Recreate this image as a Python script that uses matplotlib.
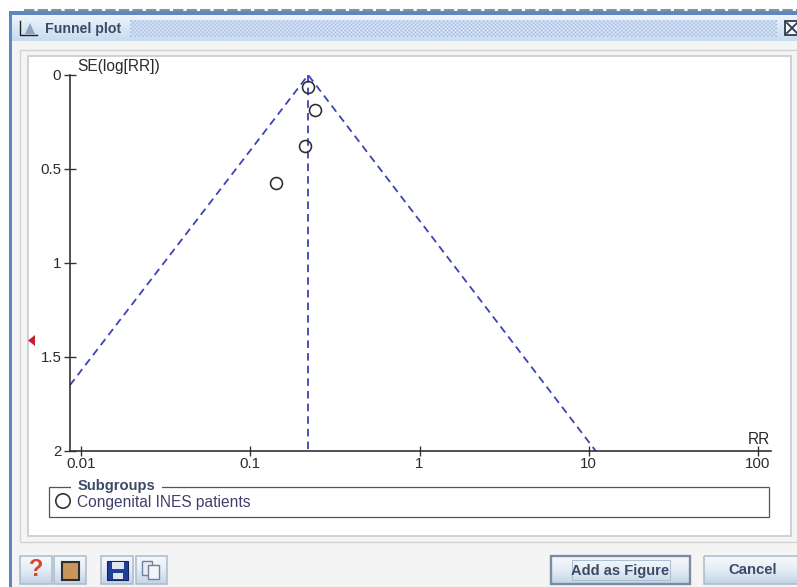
"""Funnel plot dialog: chart plus the surrounding window chrome."""

from __future__ import annotations

import matplotlib

matplotlib.use("Agg")

import matplotlib.pyplot as plt
import numpy as np
from matplotlib.patches import Circle, Polygon, Rectangle

WIDTH, HEIGHT = 797, 587

study_rr = [0.22, 0.24, 0.21, 0.142]
study_se = [0.064, 0.186, 0.378, 0.574]

funnel_rr = [0.0086, 0.22, 11.0]
funnel_se = [1.65, 0.0, 2.0]
pooled_line_rr = [0.22, 0.22]
pooled_line_se = [0.0, 2.0]

x_ticks = [0.01, 0.1, 1, 10, 100]
x_tick_labels = ["0.01", "0.1", "1", "10", "100"]
y_ticks = [0, 0.5, 1, 1.5, 2]
y_tick_labels = ["0", "0.5", "1", "1.5", "2"]

TEXT = "#2b2b2b"
AXIS = "#333333"
FUNNEL = "#3c44b4"
TITLE_TEXT = "#3c4a66"
FONT = "Liberation Sans"
DASHES = (0, (4.2, 2.8))


def pixel_axes(fig, left, top, right, bottom, **kwargs):
    return fig.add_axes(
        [left / WIDTH, 1 - bottom / HEIGHT, (right - left) / WIDTH, (bottom - top) / HEIGHT],
        **kwargs,
    )


def gradient(ax, left, top, right, bottom, colours):
    ramp = np.array([matplotlib.colors.to_rgb(c) for c in colours])
    rows = np.linspace(0, len(colours) - 1, 64)
    image = np.stack([np.interp(rows, range(len(colours)), ramp[:, i]) for i in range(3)], axis=1)
    ax.imshow(
        image[:, None, :],
        extent=(left, right, bottom, top),
        aspect="auto",
        interpolation="bilinear",
        zorder=1,
    )


def button(ax, left, top, right, bottom, edge="#a9bbcc", width=1.1):
    gradient(ax, left, top, right, bottom, ["#f6f9fc", "#e4ecf5", "#c3d4e6"])
    ax.add_patch(Rectangle((left, top), right - left, bottom - top, fill=False, ec=edge, lw=width, zorder=2))


def draw_chrome(ax):
    ax.set_xlim(0, WIDTH)
    ax.set_ylim(HEIGHT, 0)
    ax.axis("off")

    # window frame and dialog body
    ax.add_patch(Rectangle((9, 11), WIDTH, HEIGHT, fc="#5f86c0", ec="none", zorder=0))
    ax.add_patch(Rectangle((12, 41), WIDTH, HEIGHT, fc="#f4f4f5", ec="none", zorder=0.5))
    ax.plot([24, WIDTH], [10, 10], color="#8a8f9c", lw=1.5, ls=(0, (5, 1.5)), zorder=1)
    gradient(ax, 12, 15, WIDTH, 41, ["#eef5fb", "#d9e7f5", "#c8dcf0"])

    # stippled title bar filler
    yy, xx = np.mgrid[0:9, 0:323]
    stipple = np.where(((xx + yy) % 2 == 0)[..., None], [0.62, 0.72, 0.88], [0.92, 0.95, 0.99])
    ax.imshow(stipple, extent=(130, 777, 37, 20), aspect="auto", interpolation="bilinear", zorder=2)

    # title icon
    ax.plot([20, 20, 37], [21, 35, 35], color="#222222", lw=1, zorder=3)
    ax.add_patch(Polygon([[30, 23], [25, 34], [35, 34]], fc="#8fa3c0", ec="none", zorder=3))
    ax.text(45, 29, "Funnel plot", fontsize=10.2, fontweight="bold", color=TITLE_TEXT, va="center", zorder=3)

    # close button
    ax.add_patch(Rectangle((785, 21), 14, 14, fc="#f4f6f8", ec="#2d3a50", lw=1.3, zorder=3))
    ax.plot([787, 797], [23, 33], color="#2d3a50", lw=1.3, zorder=4)
    ax.plot([787, 797], [33, 23], color="#2d3a50", lw=1.3, zorder=4)

    # nested chart panel
    ax.add_patch(Rectangle((20.5, 49.5), WIDTH, 492, fc="#f4f4f4", ec="#d0d2d3", lw=1, zorder=1))
    ax.add_patch(Rectangle((28, 56), 763, 480, fc="white", ec="#c2ccd3", lw=1.2, zorder=1.5))

    # red marker on the left edge
    ax.add_patch(Polygon([[35, 335], [35, 346], [28, 340.5]], fc="#c8202a", ec="none", zorder=3))

    # legend box
    ax.add_patch(Rectangle((49.5, 487), 719.5, 30, fc="white", ec="#555555", lw=0.9, zorder=2))
    ax.add_patch(Rectangle((71, 482), 91, 9, fc="white", ec="none", zorder=2.5))
    ax.text(78, 486, "Subgroups", fontsize=10.6, fontweight="bold", color=TITLE_TEXT, va="center", zorder=3)
    ax.add_patch(Circle((63, 501), 7.2, fill=False, ec="#333333", lw=1.2, zorder=3))
    ax.text(77, 502.5, "Congenital INES patients", fontsize=11.2, color="#40406a", va="center", zorder=3)

    # toolbar buttons
    for left, right in [(20, 52), (54, 86), (101, 133), (136, 167)]:
        button(ax, left, 556, right, 584)
    ax.text(36, 570, "?", fontsize=17, fontweight="bold", color="#d8452c", ha="center", va="center", zorder=3)
    ax.add_patch(Rectangle((62.5, 562), 17, 17.5, fc="#c9955a", ec="#2d2d2d", lw=1.5, zorder=3))
    ax.add_patch(Rectangle((107.5, 561), 20.5, 19, fc="#1f3f9a", ec="#12245e", lw=0.8, zorder=3))
    ax.add_patch(Rectangle((112, 562), 12, 7, fc="#dfe6f2", ec="none", zorder=4))
    ax.add_patch(Rectangle((113, 573), 10, 6, fc="#dfe6f2", ec="none", zorder=4))
    ax.add_patch(Rectangle((142.5, 561), 10, 14, fc="#e8edf4", ec="#6f7f9c", lw=1, zorder=3))
    ax.add_patch(Rectangle((148, 565), 11, 14, fc="#f2f5f9", ec="#6f7f9c", lw=1, zorder=4))

    # dialog buttons
    button(ax, 551, 556, 690, 584, edge="#7a8ca0", width=1.7)
    ax.add_patch(Rectangle((572, 560), 98, 20, fill=False, ec="#a9bed4", lw=0.7, zorder=3))
    ax.text(620.5, 570.5, "Add as Figure", fontsize=10.5, fontweight="bold", color=TITLE_TEXT,
            ha="center", va="center", zorder=4)
    button(ax, 704, 556, 805, 584)
    ax.text(752.5, 570.5, "Cancel", fontsize=10.7, fontweight="bold", color=TITLE_TEXT,
            ha="center", va="center", zorder=4)

    # axis captions sit outside the tick scheme
    ax.text(77.5, 66.5, "SE(log[RR])", fontsize=11.2, color=TEXT, va="center", zorder=3)
    ax.text(758.5, 440, "RR", fontsize=11.2, color=TEXT, ha="center", va="center", zorder=3)


def draw_funnel(fig):
    ax = pixel_axes(fig, 70, 75, 771, 451, facecolor="none")
    decade = 169.25
    ax.set_xscale("log")
    ax.set_xlim(10 ** (-2 - 11 / decade), 10 ** (-2 + 690 / decade))
    ax.set_ylim(2, 0)

    ax.plot(funnel_rr, funnel_se, color=FUNNEL, lw=1.3, ls=DASHES, clip_on=False)
    ax.plot(pooled_line_rr, pooled_line_se, color=FUNNEL, lw=1.3, ls=DASHES)
    ax.plot(study_rr, study_se, ls="none", marker="o", ms=8.6, mfc="none", mec="#2e2e2e", mew=1.15, clip_on=False)

    for side in ("top", "right"):
        ax.spines[side].set_visible(False)
    for side in ("left", "bottom"):
        ax.spines[side].set_color(AXIS)
        ax.spines[side].set_linewidth(1.2)

    ax.set_xticks(x_ticks, x_tick_labels)
    ax.minorticks_off()
    ax.set_yticks(y_ticks, y_tick_labels)
    ax.tick_params(axis="x", direction="inout", length=7.2, width=1, color=AXIS, pad=0.5,
                   labelsize=10.8, labelcolor=TEXT)
    ax.tick_params(axis="y", direction="inout", length=8.6, width=1, color=AXIS, pad=2,
                   labelsize=10.8, labelcolor=TEXT)
    for label in ax.get_xticklabels() + ax.get_yticklabels():
        label.set_fontfamily(FONT)


def main() -> int:
    plt.rcParams["font.family"] = [FONT, "DejaVu Sans"]
    fig = plt.figure(figsize=(WIDTH / 100, HEIGHT / 100), dpi=100, facecolor="white")
    chrome = pixel_axes(fig, 0, 0, WIDTH, HEIGHT)
    draw_chrome(chrome)
    chrome.set_xlim(0, WIDTH)
    chrome.set_ylim(HEIGHT, 0)
    draw_funnel(fig)
    fig.savefig("out.png", dpi=100)
    plt.close(fig)
    return 0


if __name__ == "__main__":
    raise SystemExit(main())
